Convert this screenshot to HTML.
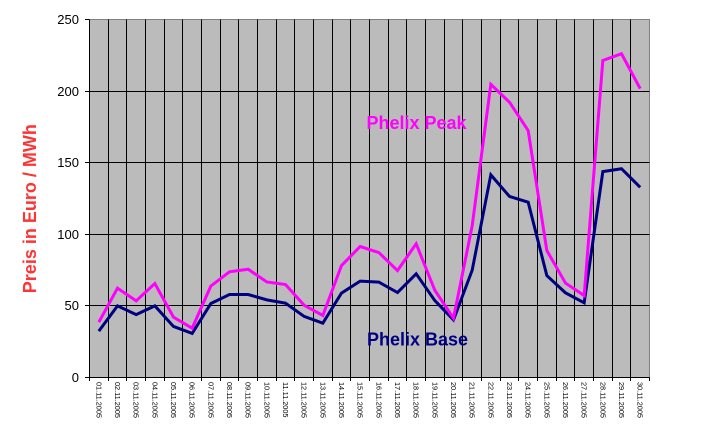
<!DOCTYPE html>
<html>
<head>
<meta charset="utf-8">
<style>
  html, body { margin: 0; padding: 0; background: #ffffff; }
  svg { display: block; }
  text { font-family: "Liberation Sans", Arial, sans-serif; }
</style>
</head>
<body>
<svg id="c" width="709" height="428" viewBox="0 0 709 428" xmlns="http://www.w3.org/2000/svg">
  <rect x="0" y="0" width="709" height="428" fill="#ffffff"/>
  <!-- plot area -->
  <rect x="89.5" y="19.5" width="560" height="358" fill="#bbbbbb" stroke="#808080" stroke-width="1"/>
  <g id="grid" stroke="#000" stroke-width="1" shape-rendering="crispEdges"></g>
  <g id="ticks" stroke="#000" stroke-width="1" shape-rendering="crispEdges"></g>
  <g id="ylabels" font-size="13" fill="#000" text-anchor="end"></g>
  <g id="xlabels" font-size="7.3" fill="#000"></g>
  <polyline id="base" fill="none" stroke="#000080" stroke-width="3" stroke-linejoin="miter" stroke-miterlimit="3"/>
  <polyline id="peak" fill="none" stroke="#ff00ff" stroke-width="3" stroke-linejoin="miter" stroke-miterlimit="3"/>
  <text x="366.5" y="129" font-size="18" font-weight="bold" fill="#ff00ff">Phelix Peak</text>
  <text x="367" y="345.5" font-size="18" font-weight="bold" fill="#000080">Phelix Base</text>
  <text transform="translate(36,208.7) rotate(-90)" text-anchor="middle" font-size="18" font-weight="bold" fill="#ff3333">Preis in Euro / MWh</text>
</svg>
<script>
(function(){
  var NS = "http://www.w3.org/2000/svg";
  function el(tag, attrs, parent, txt){
    var e = document.createElementNS(NS, tag);
    for (var k in attrs) e.setAttribute(k, attrs[k]);
    if (txt !== undefined) e.textContent = txt;
    parent.appendChild(e);
    return e;
  }
  var grid = document.getElementById('grid');
  var ticks = document.getElementById('ticks');
  var yl = document.getElementById('ylabels');
  var xl = document.getElementById('xlabels');
  var rows = [377, 305, 234, 162, 91, 19];
  for (var k = 0; k < 6; k++) {
    var y = rows[k] + 0.5;
    if (k > 0 && k < 5) el('line', {x1: 89.5, y1: y, x2: 649.5, y2: y}, grid);
    el('line', {x1: 85, y1: y, x2: 89.5, y2: y}, ticks);
    el('text', {x: 79, y: y + 4.6}, yl, String(k * 50));
  }
  var step = 560 / 30;
  for (var i = 0; i <= 30; i++) {
    var x = Math.floor(89.5 + step * i) + 0.5;
    if (i > 0 && i < 30) el('line', {x1: x, y1: 19.5, x2: x, y2: 377.5}, grid);
    el('line', {x1: x, y1: 377.5, x2: x, y2: 381}, ticks);
  }
  // axes
  el('line', {x1: 89.5, y1: 19.5, x2: 89.5, y2: 377.5}, ticks);
  el('line', {x1: 89.5, y1: 377.5, x2: 649.5, y2: 377.5}, ticks);

  for (var i = 0; i < 30; i++) {
    var cx = 89.5 + step * (i + 0.5);
    var d = (i + 1 < 10 ? '0' : '') + (i + 1) + '.11.2005';
    var t = el('text', {transform: 'translate(' + cx.toFixed(2) + ',382) rotate(90)', 'dominant-baseline': 'central'}, xl, d);
  }

  var peak = [38.7, 62.5, 53.6, 65.7, 42.2, 34.5, 63.9, 73.9, 75.7, 66.8, 65, 50.5, 43.4, 78.3, 91.6, 87.4, 74.8, 93.5, 61, 41.5, 106, 205, 192.5, 172.7, 88.8, 66, 57.3, 221.7, 226.4, 202];
  var base = [32.4, 50.1, 44, 50.1, 35.7, 30.8, 51.7, 58, 58, 54.3, 52, 42.7, 38, 59, 67.4, 66.7, 59.4, 72.5, 53.8, 40.3, 75, 141.7, 126.6, 122.6, 71.3, 59.2, 52.2, 144, 146, 133];
  function pts(arr){
    var s = [];
    for (var i = 0; i < arr.length; i++) {
      var x = 89.5 + step * (i + 0.5);
      var y = 377.5 - arr[i] * 1.43;
      s.push(x.toFixed(2) + ',' + y.toFixed(2));
    }
    return s.join(' ');
  }
  document.getElementById('peak').setAttribute('points', pts(peak));
  document.getElementById('base').setAttribute('points', pts(base));
})();
</script>
</body>
</html>
